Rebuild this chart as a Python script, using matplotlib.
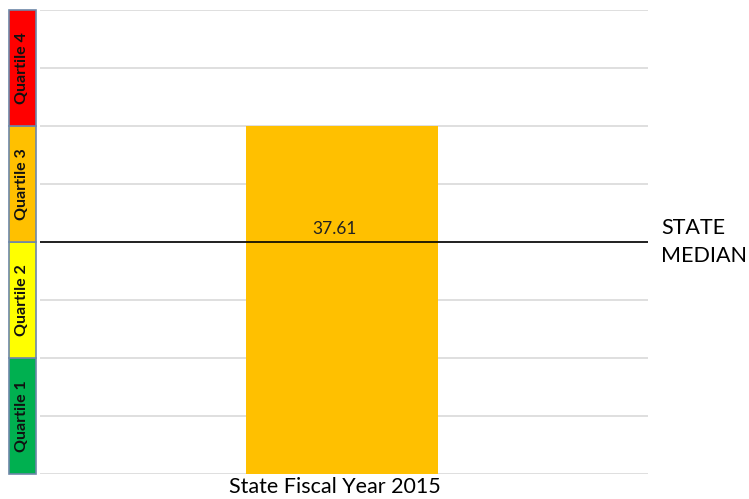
import matplotlib
matplotlib.use("Agg")
import matplotlib.pyplot as plt
from matplotlib.patches import Rectangle
import matplotlib.transforms as mtransforms

categories = ["State Fiscal Year 2015"]
bar_values = [56.415]
median_value = 37.61
median_label = "37.61"
quartile_labels = ["Quartile 1", "Quartile 2", "Quartile 3", "Quartile 4"]
quartile_bounds = [0, 18.805, 37.61, 56.415, 75.22]
quartile_colors = ["#00B050", "#FFFF00", "#FFC000", "#FF0000"]
grid_step = 9.4025

plt.rcParams['font.family'] = ['Lato', 'DejaVu Sans']

fig = plt.figure(figsize=(7.49, 4.99), dpi=100)
W, H = 749, 499
ax = fig.add_axes([40 / W, 1 - 474 / H, 608 / W, 464 / H])

x = list(range(len(categories)))
ax.bar(x, bar_values, width=0.316, color="#FFC000", zorder=2)
ax.set_xlim(-0.4967, 0.5033)
ax.set_ylim(quartile_bounds[0], quartile_bounds[-1])

yt = [i * grid_step for i in range(9)]
for y in yt:
    ax.axhline(y, color="#D9D9D9", lw=1.2, zorder=1)
ax.set_yticks([])
ax.set_xticks([])
for s in ax.spines.values():
    s.set_visible(False)

ax.text(x[0] - 0.012, -0.5, categories[0], ha="center", va="top", fontsize=15.5,
        color="#000000", clip_on=False)

ax.axhline(median_value, color="black", lw=1.2, zorder=3)
ax.text(x[0] - 0.012, median_value + 0.8, median_label, ha="center", va="bottom",
        fontsize=12.5, color="#222222", zorder=4)

trans = mtransforms.blended_transform_factory(ax.transAxes, ax.transData)
ax.text(1.022, median_value, "STATE\nMEDIAN", transform=trans,
        ha="left", va="center", fontsize=15.5, linespacing=1.45, clip_on=False)

x0 = (9 - 40) / 608
wbox = 27 / 608
for lab, c, lo, hi in zip(quartile_labels, quartile_colors, quartile_bounds[:-1], quartile_bounds[1:]):
    r = Rectangle((x0, lo), wbox, hi - lo, transform=trans, facecolor=c,
                  edgecolor="#6D87A8", lw=1.2, clip_on=False, zorder=5)
    ax.add_patch(r)
    ax.text(x0 + wbox / 2, (lo + hi) / 2, lab, transform=trans, rotation=90,
            ha="center", va="center", fontsize=11.5, fontweight="bold", color="#111111",
            clip_on=False, zorder=6)

fig.savefig("out.png", dpi=100)
